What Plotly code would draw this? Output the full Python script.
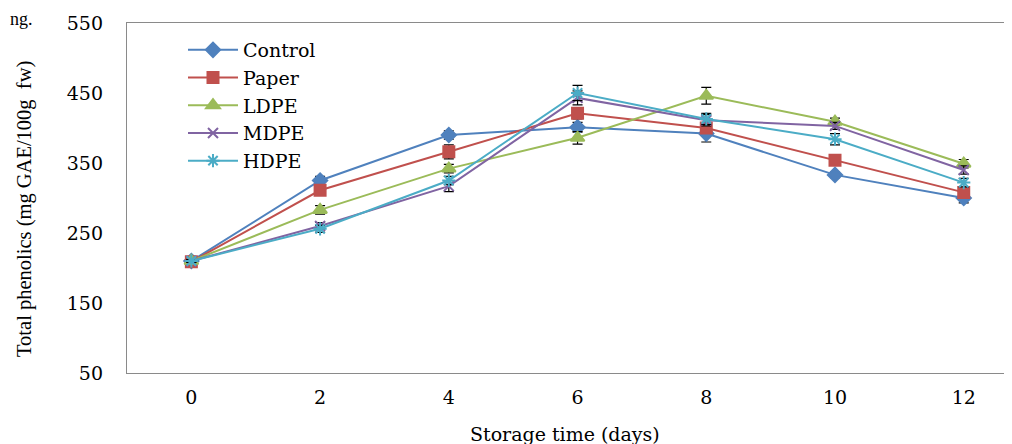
import plotly.graph_objects as go

days = [0, 2, 4, 6, 8, 10, 12]
control = [210, 325, 390, 401, 392, 333, 300]
paper = [209, 311, 366, 421, 400, 354, 308]
ldpe = [210, 283, 342, 386, 446, 409, 349]
mdpe = [210, 260, 317, 443, 411, 403, 340]
hdpe = [210, 256, 325, 450, 413, 384, 322]

control_err = [2, 6, 6, 7, 12, 4, 7]
paper_err = [2, 6, 10, 8, 6, 6, 5]
ldpe_err = [2, 6, 6, 9, 12, 5, 6]
mdpe_err = [2, 5, 8, 10, 8, 5, 6]
hdpe_err = [2, 5, 6, 11, 8, 8, 6]

series = [
    ("Control", control, control_err, "#4F81BD", "diamond", 11),
    ("Paper", paper, paper_err, "#C0504D", "square", 11),
    ("LDPE", ldpe, ldpe_err, "#9BBB59", "triangle-up", 12),
    ("MDPE", mdpe, mdpe_err, "#8064A2", "x-thin-open", 10),
    ("HDPE", hdpe, hdpe_err, "#4BACC6", "asterisk-open", 11),
]

fig = go.Figure()
for name, vals, err, color, sym, size in series:
    fig.add_trace(go.Scatter(
        x=days, y=vals, name=name, mode="lines+markers",
        line=dict(color=color, width=2),
        marker=dict(symbol=sym, size=size, color=color,
                    line=dict(color=color, width=2)),
        error_y=dict(type="data", array=err, visible=True,
                     color="black", thickness=1.2, width=5),
    ))

wide = "DejaVu Serif"
narrow = "Liberation Serif"

# page body has an 8px margin: figure is drawn from (8, 8)
OFF = 8
W, HT = 1012 - OFF, 444 - OFF
L, T, BOT = 127 - OFF, 23 - OFF, 373 - OFF
B = HT - BOT
PW, PH = W - L, BOT - T


def px(xs):
    return (xs - OFF - L) / PW


def py(ys):
    return (BOT - (ys - OFF)) / PH


fig.update_layout(
    width=W, height=HT,
    margin=dict(l=L, r=0, t=T, b=B, autoexpand=False),
    paper_bgcolor="white", plot_bgcolor="white",
    font=dict(family=wide, size=19, color="black"),
    showlegend=True,
    legend=dict(x=px(183), y=py(31), xanchor="left", yanchor="top",
                font=dict(family=wide, size=19), itemwidth=50,
                bgcolor="rgba(0,0,0,0)", tracegroupgap=0),
    xaxis=dict(range=[-1, 12.75], tickvals=days, ticktext=[str(d) for d in days],
               showgrid=False, zeroline=False, showline=True, linecolor="#8a8a8a",
               linewidth=1.3, mirror=True, ticks="", ticklabelstandoff=7,
               automargin=False,
               tickfont=dict(family=wide, size=19)),
    yaxis=dict(range=[50, 550], tickvals=[50, 150, 250, 350, 450, 550],
               showgrid=False, zeroline=False, showline=True, linecolor="#8a8a8a",
               linewidth=1.3, ticks="", ticklabelstandoff=19, automargin=False,
               tickfont=dict(family=wide, size=19)),
)
fig.add_annotation(text="Storage time (days)", xref="paper", yref="paper",
                   x=px(565), y=py(434),
                   xanchor="center", yanchor="middle", showarrow=False,
                   font=dict(family=wide, size=19))
fig.add_annotation(text="Total phenolics (mg GAE/100g  fw)", xref="paper", yref="paper",
                   x=px(25), y=py(209), textangle=-90,
                   xanchor="center", yanchor="middle", showarrow=False,
                   font=dict(family=narrow, size=20.5))
fig.add_annotation(text="ng.", xref="paper", yref="paper",
                   x=px(8), y=py(7),
                   xanchor="left", yanchor="top", showarrow=False,
                   font=dict(family=narrow, size=18))

fig.write_html("out.html")
